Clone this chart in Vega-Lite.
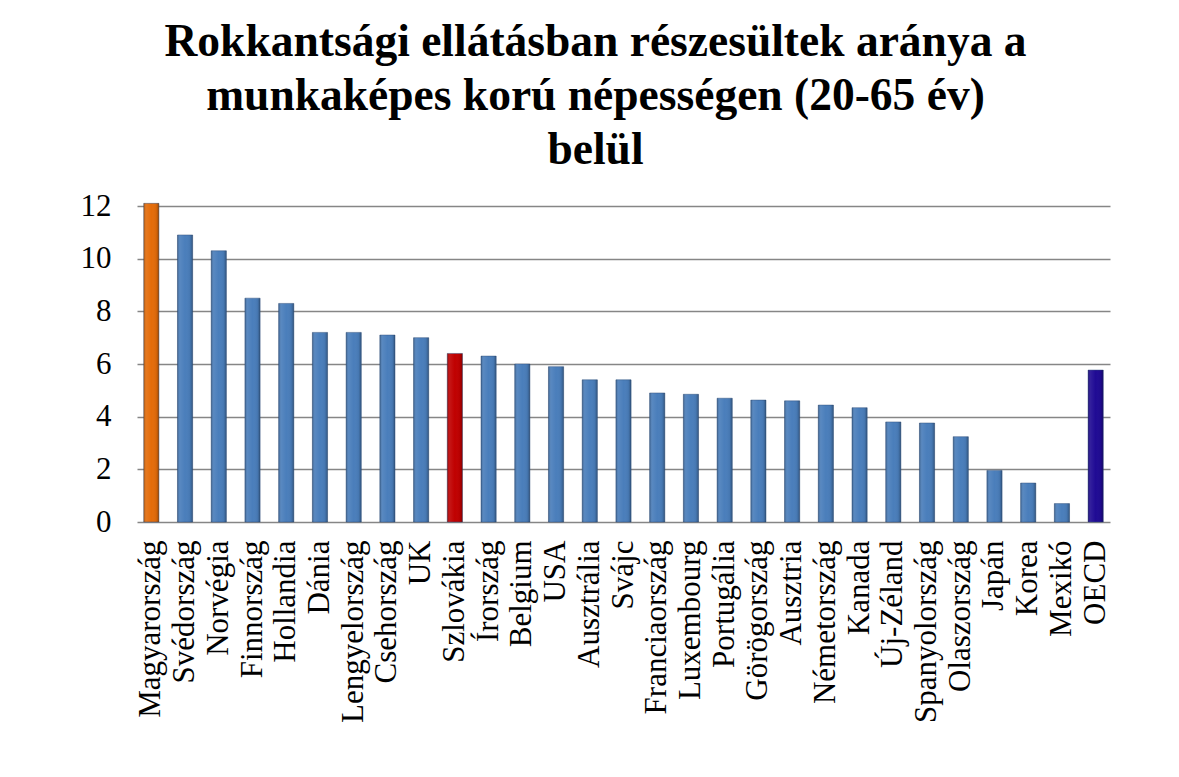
{
  "$schema": "https://vega.github.io/schema/vega-lite/v6.json",
  "width": 973,
  "height": 316,
  "autosize": {"type": "none"},
  "padding": {"left": 137, "top": 206, "right": 69, "bottom": 255},
  "background": "white",
  "title": {
    "text": ["Rokkantsági ellátásban részesültek aránya a", "munkaképes korú népességen (20-65 év)", "belül"],
    "font": "Liberation Serif",
    "fontSize": 45.5,
    "fontWeight": "bold",
    "color": "#000000",
    "lineHeight": 54,
    "anchor": "middle",
    "dx": -28,
    "offset": 17
  },
  "data": {
    "values": [
      {"orszag": "Magyarország", "ertek": 12.1, "csoport": "HU"},
      {"orszag": "Svédország", "ertek": 10.9, "csoport": "other"},
      {"orszag": "Norvégia", "ertek": 10.3, "csoport": "other"},
      {"orszag": "Finnország", "ertek": 8.5, "csoport": "other"},
      {"orszag": "Hollandia", "ertek": 8.3, "csoport": "other"},
      {"orszag": "Dánia", "ertek": 7.2, "csoport": "other"},
      {"orszag": "Lengyelország", "ertek": 7.2, "csoport": "other"},
      {"orszag": "Csehország", "ertek": 7.1, "csoport": "other"},
      {"orszag": "UK", "ertek": 7.0, "csoport": "other"},
      {"orszag": "Szlovákia", "ertek": 6.4, "csoport": "SK"},
      {"orszag": "Írország", "ertek": 6.3, "csoport": "other"},
      {"orszag": "Belgium", "ertek": 6.0, "csoport": "other"},
      {"orszag": "USA", "ertek": 5.9, "csoport": "other"},
      {"orszag": "Ausztrália", "ertek": 5.4, "csoport": "other"},
      {"orszag": "Svájc", "ertek": 5.4, "csoport": "other"},
      {"orszag": "Franciaország", "ertek": 4.9, "csoport": "other"},
      {"orszag": "Luxembourg", "ertek": 4.85, "csoport": "other"},
      {"orszag": "Portugália", "ertek": 4.7, "csoport": "other"},
      {"orszag": "Görögország", "ertek": 4.63, "csoport": "other"},
      {"orszag": "Ausztria", "ertek": 4.6, "csoport": "other"},
      {"orszag": "Németország", "ertek": 4.44, "csoport": "other"},
      {"orszag": "Kanada", "ertek": 4.34, "csoport": "other"},
      {"orszag": "Új-Zéland", "ertek": 3.8, "csoport": "other"},
      {"orszag": "Spanyolország", "ertek": 3.76, "csoport": "other"},
      {"orszag": "Olaszország", "ertek": 3.24, "csoport": "other"},
      {"orszag": "Japán", "ertek": 1.96, "csoport": "other"},
      {"orszag": "Korea", "ertek": 1.48, "csoport": "other"},
      {"orszag": "Mexikó", "ertek": 0.7, "csoport": "other"},
      {"orszag": "OECD", "ertek": 5.77, "csoport": "OECD"}
    ]
  },
  "encoding": {
    "x": {
      "field": "orszag",
      "type": "nominal",
      "sort": null,
      "scale": {"paddingInner": 0.55, "paddingOuter": 0.2},
      "axis": {
        "title": null,
        "labelAngle": -90,
        "labelFont": "Liberation Serif",
        "labelFontSize": 31,
        "labelColor": "#000000",
        "labelPadding": 18,
        "ticks": false,
        "domain": false,
        "labelOverlap": false,
        "labelLimit": 300
      }
    },
    "y": {
      "field": "ertek",
      "type": "quantitative",
      "scale": {"domain": [0, 12], "nice": false},
      "axis": {
        "title": null,
        "values": [0, 2, 4, 6, 8, 10, 12],
        "labelFont": "Liberation Serif",
        "labelFontSize": 31,
        "labelColor": "#000000",
        "labelPadding": 26,
        "ticks": false,
        "domain": false,
        "grid": true,
        "gridColor": "#868686",
        "gridWidth": 1.5
      }
    }
  },
  "layer": [
    {
      "mark": {"type": "bar", "stroke": "#2f4f7a", "strokeWidth": 0.8, "strokeOpacity": 0.6},
      "encoding": {
        "color": {
          "field": "csoport",
          "type": "nominal",
          "scale": {"domain": ["HU", "other", "SK", "OECD"], "range": ["#E46C0A", "#4A7EBB", "#C00000", "#1F0A94"]},
          "legend": null
        }
      }
    },
    {
      "mark": {
        "type": "bar",
        "fill": {
          "gradient": "linear",
          "x1": 0, "y1": 0, "x2": 1, "y2": 0,
          "stops": [
            {"offset": 0, "color": "rgba(0,0,0,0.25)"},
            {"offset": 0.18, "color": "rgba(255,255,255,0.08)"},
            {"offset": 0.5, "color": "rgba(255,255,255,0)"},
            {"offset": 0.82, "color": "rgba(0,0,0,0.05)"},
            {"offset": 1, "color": "rgba(0,0,0,0.3)"}
          ]
        }
      },
      "encoding": {}
    }
  ],
  "config": {"view": {"stroke": null}}
}
